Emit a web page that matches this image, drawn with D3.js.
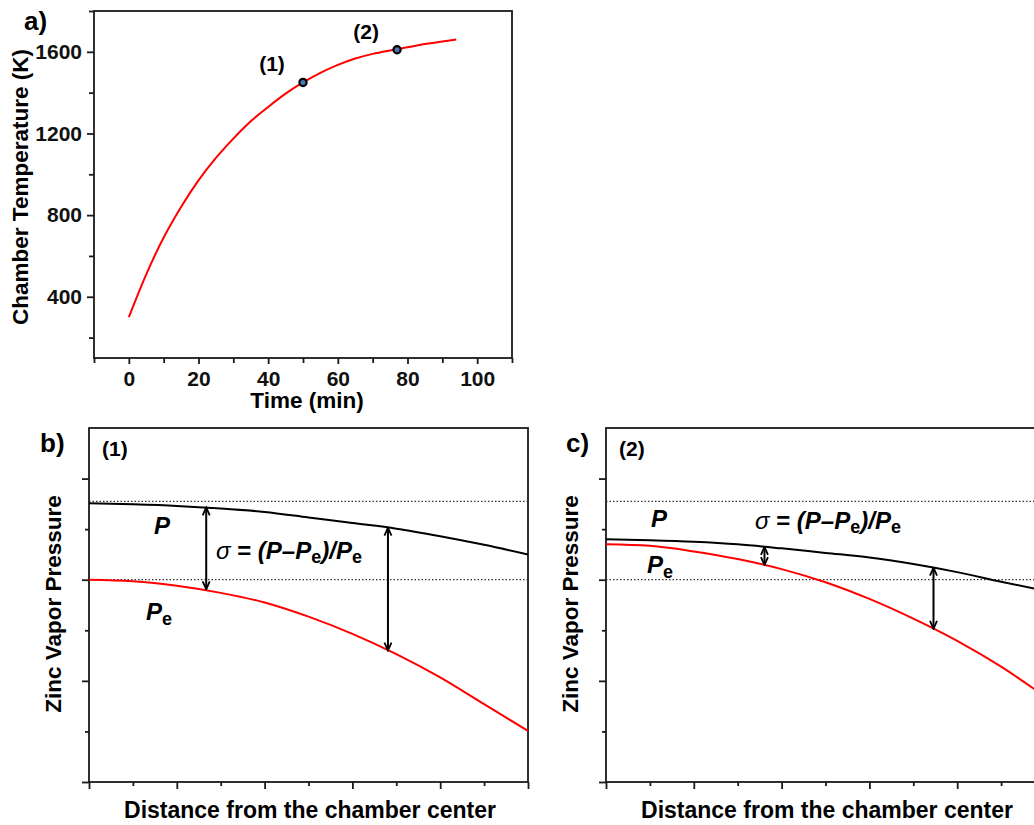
<!DOCTYPE html>
<html>
<head>
<meta charset="utf-8">
<script src="https://cdn.jsdelivr.net/npm/d3@7"></script>
<style>
  body { margin: 0; background: #fff; }
  svg { display: block; font-family: "Liberation Sans", Arial, sans-serif; }
  .tick text { font-weight: bold; }
</style>
</head>
<body>
<div id="main"></div>
<script>
// panel a: chamber heating curve
const timeMin = [0, 5, 10, 15, 20, 25, 30, 35, 40, 45, 50, 55, 60, 65, 70, 75, 80, 85, 90, 94];
const tempK = [300, 510, 690, 840, 970, 1080, 1175, 1260, 1330, 1395, 1450, 1497, 1536, 1567, 1590, 1607, 1622, 1638, 1651, 1660];
const marks = [{t: 50, T: 1450, label: "(1)"}, {t: 77, T: 1610, label: "(2)"}];
const timeTicks = [0, 20, 40, 60, 80, 100];
const tempTicks = [400, 800, 1200, 1600];

// panels b, c: vapour pressure profiles (arbitrary units)
const dist = [0, 1, 2, 3, 4, 5, 6, 7, 8, 9, 10];
const pB = [5.51, 5.49, 5.46, 5.41, 5.34, 5.23, 5.12, 5.01, 4.86, 4.69, 4.50];
const peB = [4.00, 3.97, 3.88, 3.74, 3.55, 3.27, 2.93, 2.53, 2.07, 1.54, 1.01];
const pC = [4.80, 4.78, 4.75, 4.70, 4.62, 4.53, 4.44, 4.31, 4.15, 3.96, 3.78];
const peC = [4.70, 4.67, 4.56, 4.41, 4.21, 3.95, 3.62, 3.23, 2.79, 2.28, 1.69];
const refLevels = [5.55, 4.0];
const arrowsB = [{x: 2.67, from: 5.43, to: 3.81}, {x: 6.81, from: 5.03, to: 2.60}];
const arrowsC = [{x: 3.61, from: 4.65, to: 4.29}, {x: 7.46, from: 4.24, to: 3.03}];

const W = 1034, H = 825;
const ink = "#1a1a1a";

const svg = d3.select("#main").append("svg")
    .attr("width", W).attr("height", H);

const defs = svg.append("defs");
defs.append("marker")
    .attr("id", "head")
    .attr("viewBox", "0 0 10 10")
    .attr("refX", 9).attr("refY", 5)
    .attr("markerWidth", 10).attr("markerHeight", 10)
    .attr("markerUnits", "userSpaceOnUse")
    .attr("orient", "auto-start-reverse")
    .append("path")
    .attr("d", "M1,1.5 L9,5 L1,8.5")
    .attr("fill", "none")
    .attr("stroke", "#000")
    .attr("stroke-width", 1.8);

function ticksAxis(g, axis) {
    g.call(axis);
    g.select(".domain").remove();
    g.selectAll(".tick line").attr("stroke", ink).attr("stroke-width", 1.8);
    g.selectAll(".tick text").attr("fill", "#111");
}

function frame(g, x, y) {
    const [x0, x1] = x.range(), [y0, y1] = y.range();
    g.append("rect")
        .attr("x", x0).attr("y", y1)
        .attr("width", x1 - x0).attr("height", y0 - y1)
        .attr("fill", "none").attr("stroke", ink).attr("stroke-width", 1.8);
}

// ---------- panel a ----------
{
    const x = d3.scaleLinear().domain([-10, 110]).range([94, 512]);
    const y = d3.scaleLinear().domain([100, 1800]).range([358, 11]);
    const g = svg.append("g");

    ticksAxis(g.append("g").attr("transform", "translate(0,358)"),
        d3.axisBottom(x).tickValues(d3.range(-10, 111, 20)).tickSize(5).tickFormat(""));
    ticksAxis(g.append("g").attr("transform", "translate(0,358)")
        .style("font-size", "21px"),
        d3.axisBottom(x).tickValues(timeTicks).tickSize(6).tickPadding(7));
    ticksAxis(g.append("g").attr("transform", "translate(94,0)"),
        d3.axisLeft(y).tickValues(d3.range(200, 1801, 400)).tickSize(5).tickFormat(""));
    ticksAxis(g.append("g").attr("transform", "translate(94,0)")
        .style("font-size", "21px"),
        d3.axisLeft(y).tickValues(tempTicks).tickSize(7).tickPadding(5).tickFormat(d3.format("d")));
    frame(g, x, y);

    const line = d3.line().x((d, i) => x(timeMin[i])).y(d => y(d)).curve(d3.curveMonotoneX);
    g.append("path").datum(tempK)
        .attr("d", line).attr("fill", "none")
        .attr("stroke", "#ff0000").attr("stroke-width", 2);

    g.selectAll(".mark").data(marks).enter().append("circle")
        .attr("cx", d => x(d.t)).attr("cy", d => y(d.T)).attr("r", 3.6)
        .attr("fill", "#4a78b8").attr("stroke", "#000").attr("stroke-width", 2.2);
    g.selectAll(".marklab").data(marks).enter().append("text")
        .attr("x", d => x(d.t) - 31).attr("y", d => y(d.T) - 11)
        .attr("text-anchor", "middle")
        .style("font-size", "21px").style("font-weight", "bold")
        .text(d => d.label);

    g.append("text").attr("x", 24).attr("y", 30)
        .style("font-size", "26px").style("font-weight", "bold").text("a)");
    g.append("text").attr("transform", "translate(28,187) rotate(-90)")
        .attr("text-anchor", "middle")
        .style("font-size", "22.5px").style("font-weight", "bold")
        .text("Chamber Temperature (K)");
    g.append("text").attr("x", 307).attr("y", 408)
        .attr("text-anchor", "middle")
        .style("font-size", "22.5px").style("font-weight", "bold")
        .text("Time (min)");
}

// ---------- panels b, c ----------
function pressurePanel(left, p, pe, arrows, o) {
    const x = d3.scaleLinear().domain([0, 10]).range([left, left + 439]);
    const y = d3.scaleLinear().domain([0, 7]).range([782, 428]);
    const g = svg.append("g");

    ticksAxis(g.append("g").attr("transform", "translate(0,782)"),
        d3.axisBottom(x).tickValues([1, 3, 5, 7, 9]).tickSize(4).tickFormat(""));
    ticksAxis(g.append("g").attr("transform", "translate(0,782)"),
        d3.axisBottom(x).tickValues([0, 2, 4, 6, 8, 10]).tickSize(7).tickFormat(""));
    ticksAxis(g.append("g").attr("transform", `translate(${left},0)`),
        d3.axisLeft(y).tickValues([1, 3, 5]).tickSize(4).tickFormat(""));
    ticksAxis(g.append("g").attr("transform", `translate(${left},0)`),
        d3.axisLeft(y).tickValues([0, 2, 4, 6]).tickSize(7).tickFormat(""));
    frame(g, x, y);

    g.selectAll(".ref").data(refLevels).enter().append("line")
        .attr("x1", x(0)).attr("x2", x(10))
        .attr("y1", d => y(d)).attr("y2", d => y(d))
        .attr("stroke", "#333").attr("stroke-width", 1.2)
        .attr("stroke-dasharray", "1.5,2");

    const line = d3.line().x((d, i) => x(dist[i])).y(d => y(d)).curve(d3.curveMonotoneX);
    g.append("path").datum(p).attr("d", line).attr("fill", "none")
        .attr("stroke", "#000").attr("stroke-width", 2);
    g.append("path").datum(pe).attr("d", line).attr("fill", "none")
        .attr("stroke", "#ff0000").attr("stroke-width", 2);

    g.selectAll(".arr").data(arrows).enter().append("line")
        .attr("x1", d => x(d.x)).attr("x2", d => x(d.x))
        .attr("y1", d => y(d.from)).attr("y2", d => y(d.to))
        .attr("stroke", "#000").attr("stroke-width", 2)
        .attr("marker-start", "url(#head)").attr("marker-end", "url(#head)");

    const bold = t => t.style("font-weight", "bold");
    bold(g.append("text").attr("x", o.tagX).attr("y", 452).style("font-size", "26px")).text(o.tag);
    bold(g.append("text").attr("x", left + 13).attr("y", 456).style("font-size", "21px")).text(o.num);

    // P label
    bold(g.append("text").attr("x", o.pX).attr("y", o.pY).style("font-size", "24px")
        .style("font-style", "italic")).text("P");
    // Pe label
    const pe_t = bold(g.append("text").attr("x", o.peX).attr("y", o.peY).style("font-size", "24px"));
    pe_t.append("tspan").style("font-style", "italic").text("P");
    pe_t.append("tspan").attr("dy", 5).style("font-size", "18px").text("e");

    // sigma formula
    const f = g.append("text").attr("x", o.fX).attr("y", o.fY).style("font-size", "24px");
    f.append("tspan").style("font-style", "italic").text("σ");
    f.append("tspan").style("font-weight", "bold").text(" = ");
    f.append("tspan").style("font-weight", "bold").style("font-style", "italic").text("(P–P");
    f.append("tspan").style("font-weight", "bold").attr("dy", 4).style("font-size", "18px").text("e");
    f.append("tspan").style("font-weight", "bold").style("font-style", "italic").attr("dy", -4).text(")/P");
    f.append("tspan").style("font-weight", "bold").attr("dy", 4).style("font-size", "18px").text("e");

    bold(g.append("text").attr("transform", `translate(${left - 28},604) rotate(-90)`)
        .attr("text-anchor", "middle").style("font-size", "22.5px")).text("Zinc Vapor Pressure");
    bold(g.append("text").attr("x", left + 221).attr("y", 818)
        .attr("text-anchor", "middle").style("font-size", "23px")).text("Distance from the chamber center");
}

pressurePanel(89, pB, peB, arrowsB,
    {tag: "b)", tagX: 40, num: "(1)", pX: 154, pY: 534, peX: 146, peY: 620, fX: 216, fY: 559});
pressurePanel(606, pC, peC, arrowsC,
    {tag: "c)", tagX: 566, num: "(2)", pX: 651, pY: 527, peX: 647, peY: 573, fX: 755, fY: 529});
</script>
</body>
</html>
